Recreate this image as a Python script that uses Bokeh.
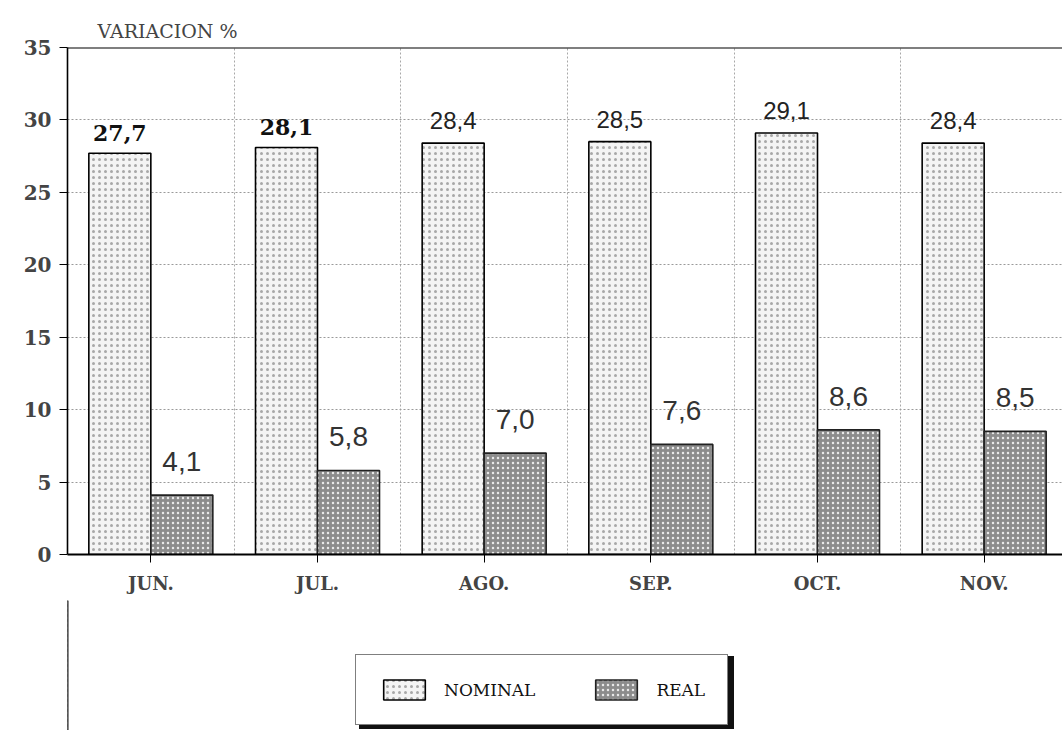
from bokeh.plotting import figure
from bokeh.models import (ColumnDataSource, Range1d, FixedTicker, Legend, LegendItem, Span)
from bokeh.layouts import column
from bokeh.core.properties import value
from bokeh.embed import file_html
from bokeh.resources import INLINE

months = ["JUN.", "JUL.", "AGO.", "SEP.", "OCT.", "NOV."]
nominal = [27.7, 28.1, 28.4, 28.5, 29.1, 28.4]
real = [4.1, 5.8, 7.0, 7.6, 8.6, 8.5]
y_ticks = [0, 5, 10, 15, 20, 25, 30, 35]
series_names = ["NOMINAL", "REAL"]

def fmt(v):
    return f"{v:.1f}".replace(".", ",")

BW = 0.372
idx = list(range(len(months)))
centers = [i + 0.5 for i in idx]

NOM_STYLE = dict(fill_color="#f4f4f4", line_color="black", line_width=1.6,
                 hatch_pattern="dot", hatch_color="#a8a8a8", hatch_scale=6, hatch_weight=1.2)
REAL_STYLE = dict(fill_color="#8c8c8c", line_color="#222222", line_width=1.6,
                  hatch_pattern="dot", hatch_color="#e8e8e8", hatch_scale=5, hatch_weight=1.5)

src_nom = ColumnDataSource(dict(x=[c - BW / 2 for c in centers], top=nominal,
                                lab=[fmt(v) for v in nominal]))
src_real = ColumnDataSource(dict(x=[c + BW / 2 for c in centers], top=real,
                                 lab=[fmt(v) for v in real]))

p = figure(frame_width=995, frame_height=507, output_backend="svg", toolbar_location=None,
           x_range=Range1d(0, 5.97), y_range=Range1d(0, 35),
           min_border_left=67, min_border_right=0, min_border_top=47,
           min_border_bottom=46)
p.background_fill_color = "white"
p.border_fill_color = "white"
p.outline_line_color = None

p.title.text = "VARIACION %"
p.title.text_font = "DejaVu Serif"
p.title.text_font_style = "normal"
p.title.text_font_size = "19px"
p.title.align = "left"
p.title.offset = 30
p.title.standoff = 12

p.vbar(x="x", top="top", width=BW, bottom=0, source=src_nom, **NOM_STYLE)
p.vbar(x="x", top="top", width=BW, bottom=0, source=src_real, **REAL_STYLE)

# value labels
nom_bold = ColumnDataSource(dict(x=src_nom.data["x"][:2], y=nominal[:2], t=src_nom.data["lab"][:2]))
nom_light = ColumnDataSource(dict(x=src_nom.data["x"][2:], y=nominal[2:], t=src_nom.data["lab"][2:]))
p.text(x="x", y="y", text="t", source=nom_bold, text_align="center", text_baseline="bottom",
       y_offset=-12, text_font=value("DejaVu Serif"), text_font_style="bold",
       text_font_size="22px", text_color="#111111")
p.text(x="x", y="y", text="t", source=nom_light, text_align="center", text_baseline="bottom",
       y_offset=-14, text_font=value("Liberation Sans"), text_font_size="24px",
       text_color="#222222")
p.text(x="x", y="top", text="lab", source=src_real, text_align="center", text_baseline="bottom",
       y_offset=-24, text_font=value("Liberation Sans"), text_font_size="28px",
       text_color="#333333")

# axes
p.yaxis.ticker = FixedTicker(ticks=y_ticks)
p.yaxis.major_label_text_font = "DejaVu Serif"
p.yaxis.major_label_text_font_style = "bold"
p.yaxis.major_label_text_font_size = "20px"
p.yaxis.major_label_standoff = 8
p.yaxis.major_tick_in = 0
p.yaxis.major_tick_out = 8
p.yaxis.minor_tick_line_color = None
p.yaxis.axis_line_width = 1.6
p.yaxis.major_tick_line_width = 1.2

p.xaxis.ticker = FixedTicker(ticks=centers)
p.xaxis.major_label_overrides = {c: m for c, m in zip(centers, months)}
p.xaxis.major_label_text_font = "DejaVu Serif"
p.xaxis.major_label_text_font_style = "bold"
p.xaxis.major_label_text_font_size = "18px"
p.xaxis.major_label_standoff = 10
p.xaxis.major_tick_in = 0
p.xaxis.major_tick_out = 8
p.xaxis.minor_tick_line_color = None
p.xaxis.axis_line_width = 1.8

p.ygrid.ticker = FixedTicker(ticks=y_ticks[1:-1])
p.ygrid.grid_line_color = "#9a9a9a"
p.ygrid.grid_line_dash = "2 2"
p.xgrid.ticker = FixedTicker(ticks=[1, 2, 3, 4, 5])
p.xgrid.grid_line_color = "#a8a8a8"
p.xgrid.grid_line_dash = "2 2"

p.add_layout(Span(location=35, dimension="width", line_color="black", line_width=2))

# legend panel below the chart
q = figure(frame_width=1062, frame_height=130, output_backend="svg", toolbar_location=None,
           x_range=Range1d(0, 1), y_range=Range1d(0, 1),
           x_axis_location=None, y_axis_location=None,
           min_border_left=0, min_border_right=0, min_border_top=0, min_border_bottom=0)
q.grid.visible = False
q.outline_line_color = None
q.background_fill_color = "white"
q.border_fill_color = "white"

off = dict(x=[-10], top=[1])
ghost = dict(fill_alpha=0, line_alpha=0, hatch_alpha=0)
g1 = q.vbar(x="x", top="top", width=0.1, source=ColumnDataSource(off), **ghost)
g2 = q.vbar(x="x", top="top", width=0.1, source=ColumnDataSource(off), **ghost)
l1 = q.vbar(x="x", top="top", width=0.1, source=ColumnDataSource(off), **NOM_STYLE)
l2 = q.vbar(x="x", top="top", width=0.1, source=ColumnDataSource(off), **REAL_STYLE)

common = dict(orientation="horizontal", glyph_width=52, glyph_height=25, spacing=55,
              padding=22, label_text_font="DejaVu Serif", label_text_font_size="17px",
              label_standoff=14, margin=0)
shadow = Legend(items=[LegendItem(label=series_names[0], renderers=[g1]),
                       LegendItem(label=series_names[1], renderers=[g2])],
                location=(359, 1), border_line_color="#111111", border_line_width=2,
                background_fill_color="#111111", background_fill_alpha=1.0,
                label_text_alpha=0.0, **common)
legend = Legend(items=[LegendItem(label=series_names[0], renderers=[l1]),
                       LegendItem(label=series_names[1], renderers=[l2])],
                location=(355, 5), border_line_color="black", border_line_width=1.5,
                background_fill_color="white", background_fill_alpha=1.0,
                label_text_color="#111111", **common)
q.add_layout(shadow, "center")
q.add_layout(legend, "center")

layout = column(p, q, spacing=0)
open("out.html", "w").write(file_html(layout, INLINE))
